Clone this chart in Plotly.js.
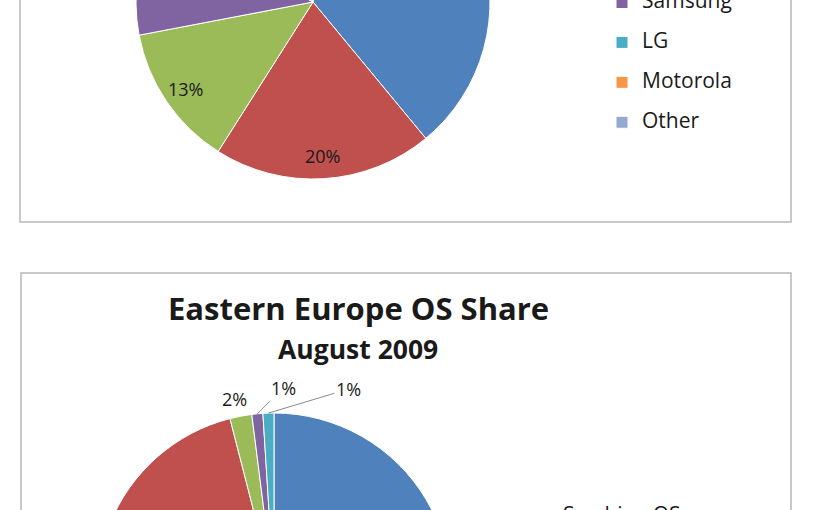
<!DOCTYPE html>
<html>
<head>
<meta charset="utf-8">
<script src="https://cdn.plot.ly/plotly-3.0.1.min.js"></script>
<style>
  html, body { margin:0; padding:0; width:816px; height:510px; overflow:hidden; background:#ffffff; }
  #chart { position:absolute; left:0; top:-320px; width:816px; height:1140px; }
</style>
</head>
<body>
<div id="chart"></div>
<script>
// ---------- DATA ----------
// Upper chart (its top part, with title and first legend entries, lies outside the visible crop)
const vendorNames = ['Nokia', 'Apple', 'Sony Ericsson', 'Samsung', 'LG', 'Motorola', 'Other'];
const vendorShare = [39, 20, 13, 11, 7, 5, 5];

// Lower chart
const osTitle = 'Eastern Europe OS Share';
const osSubtitle = 'August 2009';
const osNames = ['Symbian OS', 'iPhone OS', 'Windows Mobile', 'RIM OS', 'Android'];
const osShare = [66, 30, 2, 1, 1];

// ---------- STYLE / LAYOUT ----------
const sliceColors = ['#4F81BD', '#C0504D', '#9BBB59', '#8064A2', '#4BACC6', '#F79646', '#93A9CF'];
const W = 816, H = 1140, OFF = 320;          // virtual canvas, shifted up by OFF px
const FONT = 'Open Sans, Noto Sans, sans-serif';
const px = x => x / W;
const py = y => 1 - (y + OFF) / H;            // screen y -> paper y

function domainFor(cx, cy, r) {
  return { x: [px(cx - r), px(cx + r)], y: [py(cy + r), py(cy - r)] };
}
const R = 177;
const topPie = { cx: 313, cy: 2 };
const botPie = { cx: 274, cy: 590 };

const legendLabel = n => '<span style="font-size:21px">' + n + '</span><br>\u00a0';
const pct = '%{percent:.0%}';

function mainPie(values, names, pie, legendId) {
  return {
    type: 'pie', values: values, labels: names.map(legendLabel),
    domain: domainFor(pie.cx, pie.cy, R),
    sort: false, direction: 'clockwise', rotation: 0,
    marker: { colors: sliceColors.slice(0, values.length), line: { color: '#ffffff', width: 1 } },
    textinfo: 'none', hoverinfo: 'percent', legend: legendId
  };
}
function labelRing(values, names, pie, templates) {
  return {
    type: 'pie', values: values, labels: names,
    domain: domainFor(pie.cx, pie.cy, R),
    sort: false, direction: 'clockwise', rotation: 0, hole: 0.74,
    marker: { colors: values.map(() => 'rgba(0,0,0,0)'), line: { width: 0 } },
    texttemplate: templates, textposition: 'inside', insidetextorientation: 'horizontal',
    textfont: { family: FONT, size: 18, color: '#1a1a1a' },
    showlegend: false, hoverinfo: 'skip'
  };
}

const osTotal = osShare.reduce((a, b) => a + b, 0);
const osTemplates = osShare.map(v => (v / osTotal >= 0.05 ? pct : ''));

const data = [
  mainPie(vendorShare, vendorNames, topPie, 'legend'),
  labelRing(vendorShare, vendorNames, topPie, pct),
  mainPie(osShare, osNames, botPie, 'legend2'),
  labelRing(osShare, osNames, botPie, osTemplates)
];

// outside labels with leader lines for the thin slices of the lower pie
const smallLabelOffsets = [[-21, -17, false], [26, -26, true], [80, -24, true]];
const annotations = [];
let cum = 0, k = 0;
osShare.forEach((v, i) => {
  const mid = (cum + v / 2) / osTotal * 2 * Math.PI;
  cum += v;
  if (v / osTotal >= 0.05) return;
  const ex = botPie.cx + R * Math.sin(mid);
  const ey = botPie.cy - R * Math.cos(mid);
  const o = smallLabelOffsets[k++];
  const text = Math.round(v / osTotal * 100) + '%';
  const a = { xref: 'paper', yref: 'paper', x: px(ex), y: py(ey), text: text,
              font: { family: FONT, size: 18, color: '#1a1a1a' } };
  if (o[2]) {
    Object.assign(a, { showarrow: true, ax: o[0], ay: o[1], arrowhead: 0, arrowwidth: 1,
                       arrowcolor: '#8a8a8a', standoff: 0 });
  } else {
    Object.assign(a, { showarrow: false, xshift: o[0], yshift: -o[1] });
  }
  annotations.push(a);
});

function titleAnn(text, size, y) {
  return { xref: 'paper', yref: 'paper', x: px(358), y: y, xanchor: 'center', yanchor: 'middle',
           showarrow: false, text: '<b>' + text + '</b>', font: { family: FONT, size: size, color: '#1a1a1a' } };
}
annotations.push(titleAnn(osTitle, 31, py(307.5)));
annotations.push(titleAnn(osSubtitle, 26.5, py(349)));

const boxLine = { color: '#b8b8b8', width: 1.5 };
const shapes = [
  { type: 'rect', xref: 'paper', yref: 'paper', x0: px(20), x1: px(791), y0: py(222), y1: py(-315), line: boxLine },
  { type: 'rect', xref: 'paper', yref: 'paper', x0: px(21), x1: px(791), y0: py(810), y1: py(273), line: boxLine }
];

const legendBase = { xanchor: 'left', yanchor: 'top', valign: 'top', bgcolor: 'rgba(0,0,0,0)',
                     borderwidth: 0, tracegroupgap: 0,
                     font: { family: FONT, size: 14.2, color: '#1a1a1a' } };

const layout = {
  width: W, height: H,
  margin: { l: 0, r: 0, t: 0, b: 0 },
  paper_bgcolor: '#ffffff', plot_bgcolor: '#ffffff',
  font: { family: FONT },
  showlegend: true,
  legend: Object.assign({ x: px(602), y: py(187 - OFF) }, legendBase),
  legend2: Object.assign({ x: px(523), y: py(821 - OFF) }, legendBase),
  shapes: shapes,
  annotations: annotations
};

Plotly.newPlot('chart', data, layout, { displayModeBar: false, staticPlot: true });
</script>
</body>
</html>
